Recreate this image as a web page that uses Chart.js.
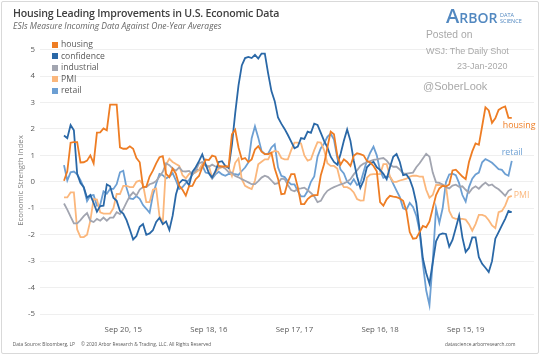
<!DOCTYPE html>
<html><head><meta charset="utf-8">
<script src="https://cdn.jsdelivr.net/npm/chart.js@4.4.1/dist/chart.umd.min.js"></script>
<style>
body{margin:0;background:#fff;}
#wrap{position:relative;width:541px;height:356px;overflow:hidden;font-family:'Open Sans',sans-serif;background:#fff;}
#frame{position:absolute;left:1px;top:1px;width:536px;height:351px;border:1px solid #d9d9d9;border-radius:2px;}
canvas{position:absolute;left:0;top:0;}
.t{position:absolute;white-space:nowrap;line-height:1;}
.w{font-family:'Liberation Sans',Arial,sans-serif;color:#a9a9a9;}
#legend{position:absolute;left:52px;top:39px;}
.row{display:flex;align-items:center;height:11.5px;font-size:8.6px;line-height:11.5px;color:#595959;}
.sw{width:6px;height:6px;margin-right:3px;}
</style></head>
<body><div id="wrap">
<div id="frame"></div>
<canvas id="c" width="541" height="356"></canvas>
<div class="t" style="left:13px;top:8.3px;font-size:10.6px;letter-spacing:-0.2px;font-weight:600;color:#404040;">Housing Leading Improvements in U.S. Economic Data</div>
<div class="t" style="left:13px;top:21.5px;font-size:8.5px;font-style:italic;color:#666;">ESIs Measure Incoming Data Against One-Year Averages</div>
<div class="t" style="left:446px;top:6.2px;font-size:20px;line-height:20px;font-weight:600;color:#5288c0;">A<span style="font-size:14px;">RBOR</span></div>
<div class="t" style="left:500px;top:12.6px;font-size:5.5px;color:#5288c0;">DATA</div>
<div class="t" style="left:500px;top:18.8px;font-size:5.5px;color:#5288c0;">SCIENCE</div>
<div class="t w" style="left:426px;top:29.6px;font-size:10.3px;">Posted on</div>
<div class="t w" style="left:426px;top:46.8px;font-size:9px;">WSJ: The Daily Shot</div>
<div class="t w" style="left:457px;top:61.8px;font-size:9px;">23-Jan-2020</div>
<div class="t w" style="left:423px;top:80.5px;font-size:11px;">@SoberLook</div>
<div class="t" style="left:12.7px;top:341.5px;font-size:4.8px;color:#595959;">Data Source: Bloomberg, LP</div>
<div class="t" style="left:81px;top:341.5px;font-size:4.8px;color:#595959;">© 2020 Arbor Research &amp; Trading, LLC. All Rights Reserved</div>
<div class="t" style="left:445px;top:341.5px;font-size:4.8px;color:#595959;">datascience.arborresearch.com</div>
<div id="legend"></div>
</div>
<script>
// weekly index step between samples (bi-weekly data)
const weekStep = 2;
const tickWeeks = [36, 88, 140, 192, 244];
const tickLabels = ['Sep 20, 15', 'Sep 18, 16', 'Sep 17, 17', 'Sep 16, 18', 'Sep 15, 19'];
const seriesNames = ['housing', 'confidence', 'industrial', 'PMI', 'retail'];
const seriesColors = ['#ee7d24', '#2a68a7', '#a2a5b0', '#fbb77c', '#6c9fd3'];

const housing = [
 0.04, 0.4, 1.48, 1.5, 1.5, 0.73, 0.74, 0.8, 1.0, 0.7,
 1.86, 1.87, 2.02, 1.95, 2.92, 2.92, 2.92, 1.3, 1.25, 1.25,
 1.34, 1.25, 0.9, 0.74, -0.2, -0.18, 0.2, 0.42, 0.7, 0.93,
 0.97, 0.3, 0.18, 0.5, 0.3, -0.15, -0.3, -0.52, -0.16, -0.15,
 0.1, 0.22, 0.55, 0.84, 0.82, 0.99, 0.95, 0.6, 0.58, 0.58,
 0.58, 1.8, 1.97, 1.3, 0.85, 0.9, 0.75, 0.85, 1.22, 1.35,
 1.14, 1.05, 1.05, 1.1, 0.5, 0.12, -0.47, -0.45, 0.0, 0.29,
 0.29, -0.2, -0.84, -0.84, -0.65, -0.55, -0.5, -0.5, 0.25, 0.67,
 1.3, 1.9, 1.8, 1.0, 0.65, 0.85, 0.75, 0.6, 0.98, 1.08,
 1.05, 1.0, 0.79, 0.73, 0.6, 0.4, -0.77, -0.9, -0.66, -0.53,
 -0.56, -0.58, -0.63, -0.72, -1.1, -1.9, -2.15, -2.13, -1.9, -1.67,
 -1.72, -1.5, -1.0, -0.5, -0.25, -0.15, -0.18, -0.1, 0.43, 0.46,
 0.33, 0.2, 0.1, 0.75, 1.15, 1.45, 1.4, 2.1, 2.82, 2.7,
 2.23, 2.4, 2.72, 2.8, 2.85, 2.42, 2.42
];
const confidence = [
 1.75, 1.65, 2.15, 1.95, 0.3, -0.05, -0.2, -0.6, -0.5, -0.8,
 -1.13, -0.92, -0.9, -0.1, -0.17, -0.6, -0.72, -1.1, -1.2, -1.45,
 -1.8, -2.18, -2.05, -1.7, -1.6, -2.0, -1.95, -1.83, -1.52, -1.36,
 -1.6, -1.5, -1.82, -1.28, -0.48, -0.05, 0.07, 0.05, -0.13, 0.38,
 0.55, 0.78, 1.04, 0.67, 0.33, 0.16, 0.4, 0.75, 0.78, 0.6,
 0.52, 1.4, 2.6, 3.65, 4.4, 4.68, 4.72, 4.68, 4.8, 4.66,
 4.85, 4.85, 4.1, 3.43, 3.05, 2.43, 2.2, 2.0, 1.77, 1.52,
 1.27, 1.33, 1.65, 1.62, 1.9, 1.85, 2.2, 2.15, 1.85, 1.55,
 1.3, 0.95, 0.75, 0.65, 1.05, 1.55, 1.98, 1.55, 0.8, 0.2,
 -0.23, 0.05, 0.55, 0.68, 0.76, 0.55, 0.45, 0.3, 0.1, 0.55,
 0.95, 1.05, 0.75, 0.25, 0.28, 0.1, -0.25, -0.8, -1.8, -2.9,
 -3.45, -3.85, -3.05, -2.25, -2.0, -1.95, -1.97, -2.45, -2.2, -1.75,
 -1.28, -2.1, -2.65, -2.5, -2.1, -2.1, -2.85, -3.1, -3.25, -3.41,
 -3.0, -2.15, -1.9, -1.65, -1.4, -1.1, -1.15
];
const industrial = [
 -0.82, -1.05, -1.32, -1.57, -1.57, -1.45, -1.3, -1.18, -1.47, -1.52,
 -1.4, -1.47, -1.35, -1.47, -1.35, -1.35, -1.15, -1.22, -1.03, -0.78,
 -0.54, -0.4, -0.52, -0.29, -0.2, -0.2, -0.09, -0.05, 0.03, 0.2,
 0.38, 0.7, 0.63, 0.5, 0.42, 0.55, 0.4, 0.39, 0.41, 0.27,
 0.42, 0.7, 0.75, 0.6, 0.57, 0.65, 0.58, 0.54, 0.57, 0.5,
 0.37, 0.35, 0.22, 0.17, 0.1, 0.04, -0.02, -0.09, -0.09, 0.03,
 0.16, 0.23, 0.18, 0.05, -0.08, -0.05, 0.12, 0.1, -0.12, -0.31,
 -0.36, -0.27, -0.25, -0.22, -0.32, -0.42, -0.55, -0.77, -0.72, -0.5,
 -0.34, -0.26, -0.2, -0.15, -0.1, -0.06, 0.0, 0.1, 0.28, 0.43,
 0.6, 0.69, 0.73, 0.78, 0.83, 0.85, 0.88, 0.9, 0.8, 0.64,
 0.57, 0.57, 0.46, 0.32, 0.31, 0.33, 0.35, 0.55, 0.7, 0.88,
 1.06, 0.95, 0.35, -0.02, -0.04, -0.1, -0.2, -0.25, -0.14, -0.11,
 -0.19, -0.17, -0.3, -0.42, -0.25, -0.17, -0.26, -0.13, -0.03, -0.14,
 -0.1, -0.21, -0.28, -0.4, -0.53, -0.34, -0.27
];
const pmi = [
 -0.59, -0.59, -0.4, -0.4, -1.8, -2.09, -2.09, -2.0, -1.47, -0.65,
 -0.67, -1.15, -1.2, -1.2, -1.2, -1.0, -0.46, -0.46, -0.15, -0.15,
 -0.2, -0.2, 0.0, 0.05, -0.1, -0.77, -0.77, -0.3, -0.25, -1.3,
 -1.53, 0.65, 0.87, 0.75, 0.67, 0.6, 0.25, 0.13, 0.3, 0.3,
 0.35, 0.45, 0.68, 0.62, 0.6, 0.16, 0.37, 0.5, 0.55, 0.6,
 0.55, 0.22, 0.72, 0.88, 0.1, -0.15, -0.22, -0.27, 0.05, 0.66,
 0.76, 0.85, 0.85, 1.1, 1.17, 1.14, 0.9, 0.85, 0.85, 1.2,
 1.48, 1.48, 1.45, 1.0, 0.8, 0.85, 1.2, 1.5, 1.48, 1.2,
 0.7, 0.6, 0.6, 0.5, 0.0, -0.2, -0.2, -0.27, -0.4, -0.65,
 -0.71, -0.7, 0.16, 0.27, 0.29, 0.29, 0.29, 0.67, 0.67, 0.2,
 0.0, 0.0, 0.05, 0.08, 0.12, 0.2, 0.23, 0.23, 0.2, 0.2,
 -0.3, -0.6, -0.5, -0.12, -0.12, -0.12, -0.15, -1.1, -1.35, -1.4,
 -1.4, -1.4, -1.43, -1.6, -1.85, -1.6, -1.25, -1.25, -1.3, -1.45,
 -1.65, -1.75, -1.15, -1.1, -0.9, -0.58, -0.53
];
const retail = [
 0.63, 0.05, 0.36, 0.39, 0.28, 0.06, -0.22, -0.73, -0.52, -0.5,
 -0.9, -0.87, -0.36, -0.45, -0.27, -0.27, -0.09, 0.36, 0.42, -0.23,
 -0.63, -0.65, -0.54, -0.64, -0.88, -1.02, -1.17, -0.5, -0.07, 0.3,
 0.25, 0.13, 0.2, 0.33, 0.05, -0.27, -0.2, -0.05, 0.07, 0.28,
 0.46, 0.44, 0.62, 0.35, 0.32, 0.12, 0.28, 0.38, 0.28, 0.23,
 0.3, 0.28, 0.29, 0.26, 0.41, 0.54, 0.73, 1.65, 2.1, 1.67,
 1.17, 1.05, 1.06, 1.3, 1.42, 0.55, 0.23, 0.18, 0.02, -0.1,
 -0.1, -0.35, -0.55, -0.55, -0.35, 0.0, 0.2, 0.95, 1.27, 1.45,
 1.7, 1.82, 1.6, 0.9, 0.46, 0.32, 0.0, -0.1, 0.1, -0.12,
 -0.05, 0.38, 0.8, 1.1, 1.33, 1.0, 0.42, 0.15, 0.2, 0.2,
 -0.08, -0.33, -0.58, -1.0, -1.05, -0.8, -0.95, -1.28, -1.85, -3.1,
 -4.1, -4.66, -3.0, -1.0, -1.55, -1.0, -0.02, 0.28, 0.31, 0.25,
 -0.05, -0.5, -0.75, -0.2, 0.12, 0.28, 0.35, 0.74, 0.86, 0.8,
 0.72, 0.6, 0.48, 0.45, 0.29, 0.23, 0.79
];
const seriesValues = [housing, confidence, industrial, pmi, retail];

// end-of-line labels: dataset index, text offset (style only)
const endLabelSpec = [
  {ds: 0, dx: -9, dy: 8},
  {ds: 4, dx: -10, dy: -8},
  {ds: 3, dx: 2, dy: 0}
];
const endLabels = {
  id: 'endLabels',
  afterDatasetsDraw(chart) {
    const ctx = chart.ctx;
    ctx.save();
    ctx.font = '8.8px "Open Sans"';
    ctx.textAlign = 'left';
    ctx.textBaseline = 'middle';
    endLabelSpec.forEach(s => {
      const meta = chart.getDatasetMeta(s.ds);
      const pt = meta.data[meta.data.length - 1];
      ctx.fillStyle = chart.data.datasets[s.ds].borderColor;
      ctx.fillText(chart.data.datasets[s.ds].label, pt.x + s.dx, pt.y + s.dy);
    });
    ctx.restore();
  }
};

const datasets = seriesNames.map((name, j) => ({
  label: name,
  data: seriesValues[j].map((v, i) => ({x: i * weekStep, y: v})),
  borderColor: seriesColors[j],
  backgroundColor: seriesColors[j],
  borderWidth: 1.8,
  pointRadius: 0,
  tension: 0,
  fill: false
}));

const tickFont = {family: 'Open Sans', size: 7.8};
const chart = new Chart(document.getElementById('c'), {
  type: 'line',
  data: {datasets},
  options: {
    responsive: false,
    animation: false,
    layout: {padding: {top: 39, right: 7, left: 0, bottom: 0}},
    plugins: {legend: {display: false}, tooltip: {enabled: false}},
    scales: {
      x: {
        type: 'linear', min: -14.58, max: 285.5,
        grid: {display: false, drawTicks: false},
        border: {display: false},
        afterBuildTicks: s => { s.ticks = tickWeeks.map(v => ({value: v})); },
        ticks: {autoSkip: false, maxRotation: 0, padding: 3, font: tickFont, color: '#595959',
          callback: (v, i) => tickLabels[i]},
        afterFit: s => { s.height = 34; }
      },
      y: {
        min: -5.3, max: 5.4,
        grid: {color: '#efefef', drawTicks: false},
        border: {display: false},
        ticks: {stepSize: 1, includeBounds: false, padding: 5, font: tickFont, color: '#595959'},
        title: {display: true, text: 'Economic Strength Index', font: tickFont, color: '#7f7f7f', padding: {top: 16, bottom: 0}},
        afterFit: s => { s.width = 40; }
      }
    }
  },
  plugins: [endLabels]
});

// HTML legend built from the chart's datasets
const lg = document.getElementById('legend');
chart.data.datasets.forEach(d => {
  const r = document.createElement('div');
  r.className = 'row';
  r.innerHTML = '<span class="sw" style="background:' + d.borderColor + '"></span><span>' + d.label + '</span>';
  lg.appendChild(r);
});
</script>
</body></html>
